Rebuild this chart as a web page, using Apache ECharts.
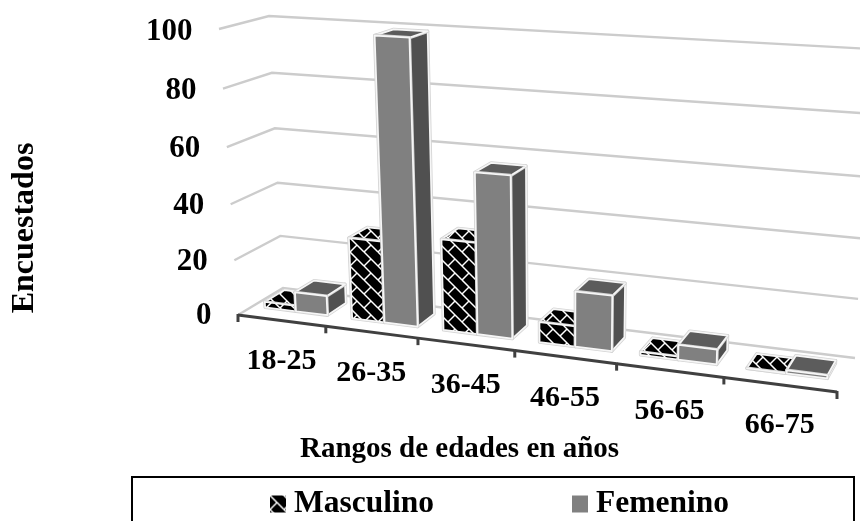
<!DOCTYPE html>
<html>
<head>
<meta charset="utf-8">
<style>
html, body { margin: 0; padding: 0; background: #fff; }
#chart { width: 860px; height: 521px; }
</style>
<script src="https://cdn.jsdelivr.net/npm/echarts@6/dist/echarts.min.js"></script>
</head>
<body>
<div id="chart"></div>
<script>
const categories = ['18-25', '26-35', '36-45', '46-55', '56-65', '66-75']
const masculino = [2, 29, 32, 7, 1, 0]
const femenino = [7, 99, 56, 19, 5, 1]
const yTicks = [0, 20, 40, 60, 80, 100]
const xEdges = [0, 1, 2, 3, 4, 5, 6]

const FONT = '"Liberation Serif", serif'

// esquinas de la caja 3D en pixeles: [frente/fondo][izq/der][valor 0/100]
const box = {
  fl0: [238, 315], fr0: [837, 392], bl0: [283, 288], br0: [855, 358],
  fl1: [219, 29], fr1: [852, 66], bl1: [269, 16], br1: [871, 49]
}
const warpU = 0.859
const warpV = 0.9475
const warp = (t, c) => (t * c) / (1 + (c - 1) * t)
const lerp = (a, b, t) => [a[0] + (b[0] - a[0]) * t, a[1] + (b[1] - a[1]) * t]

// u: 0..1 eje x, d: 0..1 profundidad, v: 0..1 valor
function project (u, d, v) {
  const tu = warp(u, warpU)
  const tv = warp(v, warpV)
  const front = lerp(lerp(box.fl0, box.fr0, tu), lerp(box.fl1, box.fr1, tu), tv)
  const back = lerp(lerp(box.bl0, box.br0, tu), lerp(box.bl1, box.br1, tu), tv)
  return lerp(front, back, d)
}

// patron de ladrillo diagonal de la serie Masculino
function brickPattern () {
  const T = 28
  const h = T / 2
  const q = T / 4
  const c = document.createElement('canvas')
  c.width = T
  c.height = T
  const g = c.getContext('2d')
  g.fillStyle = '#000'
  g.fillRect(0, 0, T, T)
  g.strokeStyle = '#fff'
  g.lineWidth = 1.5
  const seg = (x1, y1, x2, y2) => {
    for (let i = -1; i <= 1; i++) {
      for (let j = -1; j <= 1; j++) {
        g.beginPath()
        g.moveTo(x1 + i * T, y1 + j * T)
        g.lineTo(x2 + i * T, y2 + j * T)
        g.stroke()
      }
    }
  }
  seg(0, 0, T, T)
  seg(h, 0, T, h)
  seg(0, h, h, T)
  seg(0, 0, q, -q)
  seg(h, h, h + q, q)
  seg(h, 0, h + q, -q)
  seg(0, h, q, q)
  return c
}
const pattern = { image: brickPattern(), repeat: 'repeat' }

function toUnit (api, params, pt) {
  const cs = params.coordSys
  return [(pt[0] - cs.x) / cs.width, (cs.y + cs.height - pt[1]) / cs.height]
}

function face (points, fill) {
  return [
    { type: 'polygon', shape: { points }, style: { fill: 'none', stroke: '#d4d4d4', lineWidth: 3.4, lineJoin: 'round' } },
    { type: 'polygon', shape: { points }, style: { fill, stroke: '#f6f6f6', lineWidth: 1.7, lineJoin: 'round' } }
  ]
}

// posicion de cada barra dentro de su categoria
const barSpan = [[-0.36, 0], [0, 0.36]]
const depth = [0.34, 0.78]

function bar3d (serieIdx, frontFill, sideFill, topFill) {
  return function (params, api) {
    const i = api.value(0)
    const base = toUnit(api, params, api.coord([i, 0]))
    const top = toUnit(api, params, api.coord([i, api.value(1)]))
    const band = api.size([1, 0])[0] / params.coordSys.width
    const u0 = base[0] + barSpan[serieIdx][0] * band
    const u1 = base[0] + barSpan[serieIdx][1] * band
    const v0 = base[1]
    const v1 = top[1]
    const p = (u, d, v) => project(u, d, v)
    const children = [].concat(
      face([p(u1, depth[0], v0), p(u1, depth[1], v0), p(u1, depth[1], v1), p(u1, depth[0], v1)], sideFill),
      face([p(u0, depth[0], v1), p(u1, depth[0], v1), p(u1, depth[1], v1), p(u0, depth[1], v1)], topFill),
      face([p(u0, depth[0], v0), p(u1, depth[0], v0), p(u1, depth[0], v1), p(u0, depth[0], v1)], frontFill)
    )
    return { type: 'group', children }
  }
}

function renderWall (params, api) {
  const pt = toUnit(api, params, api.coord([0, api.value(0)]))
  const v = pt[1]
  return {
    type: 'polyline',
    shape: { points: [project(0, 0, v), project(0, 1, v), project(1, 1, v)] },
    style: { fill: 'none', stroke: '#cccccc', lineWidth: 2.4 }
  }
}

function renderYLabel (params, api) {
  const val = api.value(0)
  const pt = toUnit(api, params, api.coord([0, val]))
  const p = project(0, 0, pt[1])
  return {
    type: 'text',
    style: {
      x: p[0] - 26.5,
      y: p[1] + 1 + 2 * pt[1],
      text: String(val),
      textAlign: 'right',
      textVerticalAlign: 'middle',
      font: 'bold 31px ' + FONT,
      fill: '#000'
    }
  }
}

function renderAxisLine (params, api) {
  const e = api.value(0)
  const u = e / categories.length
  const p = project(u, 0, 0)
  const children = [{
    type: 'line',
    shape: { x1: p[0], y1: p[1] - 1, x2: p[0], y2: p[1] + 7 },
    style: { stroke: '#404040', lineWidth: 3 }
  }]
  if (e < categories.length) {
    const q = project((e + 1) / categories.length, 0, 0)
    children.push({
      type: 'line',
      shape: { x1: p[0], y1: p[1], x2: q[0], y2: q[1] },
      style: { stroke: '#404040', lineWidth: 3 }
    })
  }
  return { type: 'group', children }
}

function renderXLabel (params, api) {
  const i = api.value(0)
  const base = toUnit(api, params, api.coord([i, 0]))
  const p = project(base[0], 0, 0)
  return {
    type: 'text',
    style: {
      x: p[0],
      y: p[1] + 41,
      text: categories[i],
      textAlign: 'center',
      textVerticalAlign: 'middle',
      font: 'bold 30px ' + FONT,
      fill: '#000'
    }
  }
}

const chart = echarts.init(document.getElementById('chart'))

chart.setOption({
  animation: false,
  backgroundColor: '#fff',
  grid: { left: 0, right: 0, top: 0, bottom: 0 },
  xAxis: { type: 'category', data: categories, show: false },
  yAxis: { type: 'value', min: 0, max: 100, interval: 20, show: false },
  legend: {
    left: 265,
    top: 483,
    itemWidth: 16,
    itemHeight: 17,
    itemGap: 138,
    textStyle: { fontFamily: FONT, fontWeight: 'bold', fontSize: 31.5, color: '#000', padding: [0, 0, 0, 3] },
    data: [
      { name: 'Masculino', icon: 'rect', itemStyle: { color: pattern } },
      { name: 'Femenino', icon: 'rect', itemStyle: { color: '#808080' } }
    ]
  },
  graphic: [
    {
      type: 'rect',
      z: -1,
      shape: { x: 132, y: 477, width: 722, height: 60 },
      style: { fill: '#fff', stroke: '#000', lineWidth: 2 }
    },
    {
      type: 'text',
      left: 300,
      top: 435,
      style: { text: 'Rangos de edades en años', font: 'bold 29px ' + FONT, fill: '#000' }
    },
    {
      type: 'text',
      x: 25,
      y: 228,
      rotation: Math.PI / 2,
      style: { text: 'Encuestados', font: 'bold 32px ' + FONT, fill: '#000', textAlign: 'center', textVerticalAlign: 'middle' }
    }
  ],
  series: [
    { type: 'custom', name: 'paredes', silent: true, z: 1, data: yTicks.map(v => [v]), renderItem: renderWall, encode: { y: 0 } },
    { type: 'custom', name: 'ejeY', silent: true, z: 2, data: yTicks.map(v => [v]), renderItem: renderYLabel, encode: { y: 0 } },
    { type: 'custom', name: 'ejeX', silent: true, z: 3, data: xEdges.map(v => [v]), renderItem: renderAxisLine },
    { type: 'custom', name: 'etiquetas', silent: true, z: 3, data: categories.map((c, i) => [i]), renderItem: renderXLabel },
    {
      type: 'custom',
      name: 'Masculino',
      z: 4,
      data: masculino.map((v, i) => [i, v]),
      encode: { x: 0, y: 1 },
      itemStyle: { color: '#000' },
      renderItem: bar3d(0, pattern, pattern, pattern)
    },
    {
      type: 'custom',
      name: 'Femenino',
      z: 5,
      data: femenino.map((v, i) => [i, v]),
      encode: { x: 0, y: 1 },
      itemStyle: { color: '#808080' },
      renderItem: bar3d(1, '#808080', '#505050', '#5c5c5c')
    }
  ]
})
</script>
</body>
</html>
